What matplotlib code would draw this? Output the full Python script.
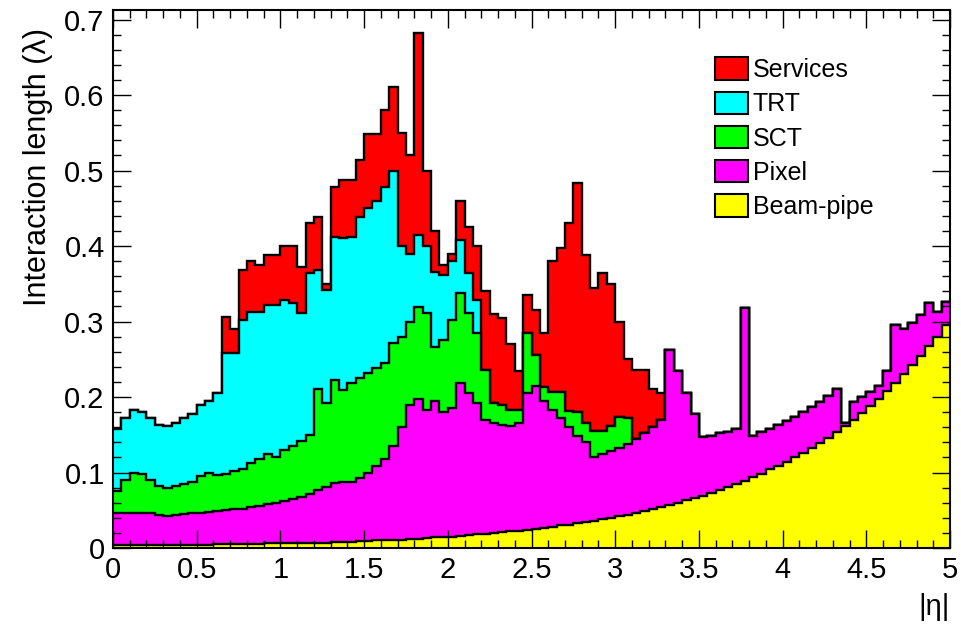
import matplotlib
matplotlib.use('Agg')
import matplotlib.pyplot as plt
from matplotlib.patches import Patch
import numpy as np

plt.rcParams['font.family'] = ['Liberation Sans', 'DejaVu Sans']

## Binning: 100 bins of 0.05 in |eta|
eta_edges = np.linspace(0, 5, 101)

## Stacked heights (top of each layer)
beampipe_top = [
    0.004, 0.004, 0.004, 0.004, 0.004, 0.004, 0.004, 0.004, 0.004, 0.004,
    0.004, 0.004, 0.005, 0.005, 0.005, 0.005, 0.005, 0.005, 0.006, 0.006,
    0.006, 0.006, 0.006, 0.007, 0.007, 0.007, 0.008, 0.008, 0.008, 0.009,
    0.009, 0.010, 0.010, 0.011, 0.011, 0.012, 0.012, 0.013, 0.014, 0.014,
    0.015, 0.016, 0.017, 0.018, 0.019, 0.020, 0.021, 0.022, 0.023, 0.024,
    0.025, 0.027, 0.028, 0.030, 0.031, 0.033, 0.034, 0.036, 0.038, 0.040,
    0.042, 0.044, 0.047, 0.049, 0.052, 0.054, 0.057, 0.060, 0.063, 0.066,
    0.069, 0.073, 0.077, 0.081, 0.085, 0.089, 0.094, 0.098, 0.104, 0.109,
    0.114, 0.120, 0.126, 0.133, 0.139, 0.146, 0.154, 0.162, 0.170, 0.179,
    0.188, 0.198, 0.208, 0.219, 0.230, 0.242, 0.254, 0.267, 0.280, 0.295,
]

pixel_top = [
    0.046, 0.046, 0.047, 0.047, 0.046, 0.044, 0.043, 0.044, 0.045, 0.046,
    0.047, 0.048, 0.049, 0.050, 0.051, 0.052, 0.054, 0.056, 0.058, 0.060,
    0.062, 0.065, 0.068, 0.072, 0.077, 0.081, 0.086, 0.088, 0.087, 0.093,
    0.100, 0.108, 0.118, 0.135, 0.160, 0.190, 0.198, 0.183, 0.195, 0.180,
    0.185, 0.218, 0.205, 0.192, 0.170, 0.165, 0.163, 0.162, 0.165, 0.205,
    0.215, 0.195, 0.183, 0.172, 0.160, 0.148, 0.140, 0.120, 0.125, 0.128,
    0.132, 0.138, 0.145, 0.152, 0.160, 0.170, 0.262, 0.235, 0.205, 0.178,
    0.147, 0.149, 0.152, 0.154, 0.157, 0.318, 0.149, 0.153, 0.158, 0.163,
    0.168, 0.174, 0.180, 0.187, 0.194, 0.201, 0.210, 0.165, 0.193, 0.200,
    0.207, 0.215, 0.235, 0.295, 0.290, 0.298, 0.308, 0.325, 0.312, 0.326,
]

# SCT from bin 0 up to |eta| = 3.1, above that it sits on the pixel
sct_top = [
    0.075, 0.090, 0.100, 0.098, 0.090, 0.082, 0.080, 0.082, 0.085, 0.088,
    0.095, 0.099, 0.097, 0.098, 0.102, 0.105, 0.112, 0.118, 0.124, 0.121,
    0.130, 0.135, 0.142, 0.150, 0.210, 0.192, 0.222, 0.209, 0.218, 0.225,
    0.232, 0.238, 0.245, 0.272, 0.280, 0.300, 0.319, 0.311, 0.266, 0.275,
    0.302, 0.338, 0.311, 0.285, 0.236, 0.192, 0.190, 0.183, 0.183, 0.285,
    0.255, 0.213, 0.206, 0.206, 0.182, 0.180, 0.165, 0.155, 0.155, 0.162,
    0.174, 0.172,
]

# TRT from bin 0 up to |eta| = 2.2
trt_top = [
    0.158, 0.172, 0.183, 0.180, 0.172, 0.163, 0.162, 0.165, 0.172, 0.178,
    0.190, 0.195, 0.205, 0.258, 0.258, 0.302, 0.313, 0.313, 0.322, 0.322,
    0.328, 0.325, 0.311, 0.364, 0.368, 0.342, 0.412, 0.410, 0.412, 0.438,
    0.450, 0.460, 0.478, 0.500, 0.400, 0.390, 0.415, 0.400, 0.365, 0.362,
    0.380, 0.408, 0.364, 0.328,
]

# Services from |eta| = 0.65 (bin 13) up to |eta| = 3.3
services_first_bin = 13
services_top = [
    0.306, 0.290, 0.368, 0.380, 0.375, 0.388, 0.388,
    0.400, 0.400, 0.372, 0.430, 0.438, 0.350, 0.478, 0.487, 0.487, 0.514,
    0.548, 0.548, 0.580, 0.610, 0.550, 0.520, 0.682, 0.500, 0.420, 0.375,
    0.390, 0.460, 0.425, 0.400, 0.340, 0.310, 0.305, 0.270, 0.235, 0.335,
    0.315, 0.285, 0.380, 0.398, 0.430, 0.483, 0.388, 0.345, 0.364, 0.350,
    0.300, 0.250, 0.236, 0.236, 0.210, 0.205,
]

labels = ["Services", "TRT", "SCT", "Pixel", "Beam-pipe"]
colors = ["#FF0000", "#00FFFF", "#00FF00", "#FF00FF", "#FFFF00"]

x_ticks = [0, 0.5, 1, 1.5, 2, 2.5, 3, 3.5, 4, 4.5, 5]
x_ticklabels = ["0", "0.5", "1", "1.5", "2", "2.5", "3", "3.5", "4", "4.5", "5"]
y_ticks = [0, 0.1, 0.2, 0.3, 0.4, 0.5, 0.6, 0.7]
y_ticklabels = ["0", "0.1", "0.2", "0.3", "0.4", "0.5", "0.6", "0.7"]


def build_stack():
    bp = np.array(beampipe_top)
    px = np.array(pixel_top)
    sct = px.copy()
    sct[:len(sct_top)] = sct_top
    trt = sct.copy()
    trt[:len(trt_top)] = trt_top
    svc = trt.copy()
    svc[services_first_bin:services_first_bin + len(services_top)] = services_top
    return [svc, trt, sct, px, bp]


fig = plt.figure(figsize=(9.61, 6.25), dpi=100)
ax = fig.add_axes([113 / 961, 1 - 548 / 625, (950 - 113) / 961, (548 - 10) / 625])

# draw from the total down, each layer filled from zero (THStack style)
for top, color in zip(build_stack(), colors):
    ax.stairs(top, eta_edges, baseline=0, fill=True, facecolor=color, edgecolor='none')
    ax.stairs(top, eta_edges, baseline=None, fill=False, color='black', linewidth=1.7)

ax.set_xlim(0, 5)
ax.set_ylim(0, 0.7126)

ax.set_xticks(x_ticks)
ax.set_xticklabels(x_ticklabels)
ax.set_yticks(y_ticks)
ax.set_yticklabels(y_ticklabels)
ax.set_xticks(np.arange(0, 5.01, 0.1), minor=True)
ax.set_yticks(np.arange(0, 0.71, 0.02), minor=True)
ax.tick_params(which='both', direction='in', top=True, right=True, labelsize=21)
ax.tick_params(which='major', length=13, width=1.0, pad=6)
ax.tick_params(which='minor', length=6, width=1.0)
for sp in ax.spines.values():
    sp.set_linewidth(1.5)

ax.set_ylabel("Interaction length (λ)", fontsize=22, loc='top')
ax.yaxis.set_label_coords(-0.072, 0.966)
ax.set_xlabel("|η|", fontsize=21, loc='right', labelpad=6)

handles = [Patch(facecolor=c, edgecolor='black', linewidth=1.5) for c in colors]
ax.legend(handles, labels, loc='upper left', bbox_to_anchor=(0.719, 0.912),
          frameon=False, fontsize=18, borderpad=0, handlelength=1.32,
          handleheight=1.0, labelspacing=0.38, handletextpad=0.2, borderaxespad=0)

fig.savefig("out.png", dpi=100)
plt.close()
